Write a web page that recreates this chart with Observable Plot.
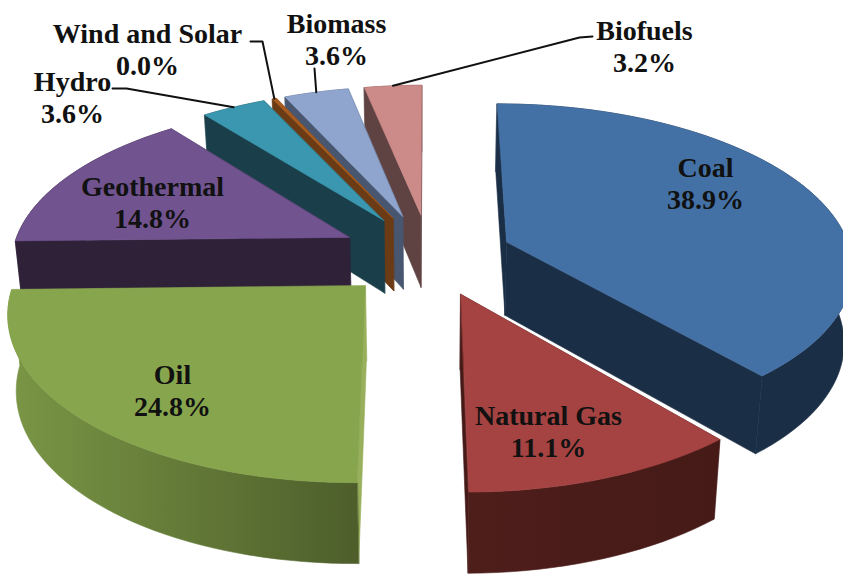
<!DOCTYPE html>
<html>
<head>
<meta charset="utf-8">
<script src="https://cdn.jsdelivr.net/npm/d3@7"></script>
<script src="https://cdn.jsdelivr.net/npm/@observablehq/plot@0.6"></script>
<style>html,body{margin:0;padding:0;background:#fff;overflow:hidden}svg{display:block}</style>
</head>
<body>
<div id="chart"></div>
<script>
// Data
const sources = ["Coal", "Natural Gas", "Oil", "Geothermal", "Hydro", "Wind and Solar", "Biomass", "Biofuels"];
const shares  = [38.9, 11.1, 24.8, 14.8, 3.6, 0.0, 3.6, 3.2];

// Styling
const topColors   = ["#4471a5", "#a44341", "#87a54d", "#70538f", "#3b97af", "#a85c20", "#8fa5ce", "#cc8a88"];
const sideFrom    = ["#1a2e45", "#451a17", "#4d5e2b", "#2e2138", "#1a3f4b", "#6b3b15", "#48566f", "#5f4342"];
const sideTo      = ["#1b3048", "#4e1e1b", "#7a9645", "#2e2138", "#1a3f4b", "#6b3b15", "#48566f", "#5f4342"];
const faceColors  = ["#1a2e45", "#451a17", "#98b05c", "#2e2138", "#1a3f4b", "#6b3b15", "#48566f", "#5f4342"];
const paintOrder  = [7, 6, 5, 4, 3, 0, 2, 1];

// Layout of the tilted, exploded pie
const W = 843, H = 575;
const view = {cx: 429, cy: 254.5, tilt: 0.466, dist: 2460, depth: 74, depthSlope: 0.017, taper: 0.98};
const radii   = [345, 340, 343, 338, 338, 338, 338, 338];
const explode = [83, 87, 90, 90, 90, 90, 90, 90];
const minSpan = 0.8; // degrees: a slice that rounds to zero stays a visible sliver

// Angles from values
const spans = shares.map(v => Math.max(v * 3.6, minSpan));
const k360 = 360 / d3.sum(spans);
let acc = 0;
const slices = sources.map((name, i) => {
  const a0 = acc; acc += spans[i] * k360;
  return {i, name, share: shares[i], a0, a1: acc, mid: (a0 + acc) / 2, r: radii[i]};
});

const rad = d => d * Math.PI / 180;
function project(s, theta, r, lower) {
  const e = explode[s.i];
  const X = e * Math.sin(rad(s.mid)) + r * Math.sin(rad(theta));
  const Y = -e * Math.cos(rad(s.mid)) - r * Math.cos(rad(theta));
  const p = view.dist / (view.dist - Y);
  let x = view.cx + X * p;
  let y = view.cy + view.tilt * Y * p;
  if (lower) {
    y += view.depth + view.depthSlope * Y;
    x = view.cx + (x - view.cx) * view.taper;
  }
  return [x, y];
}

// Polygons, back to front
const rows = [];
let pid = 0;
function poly(points, color) {
  const id = pid++;
  for (const [x, y] of points) rows.push({id, x, y, color});
}
for (const idx of paintOrder) {
  const s = slices[idx];
  for (const t of [s.a0, s.a1]) {
    poly([project(s, t, 0), project(s, t, s.r), project(s, t, s.r, true), project(s, t, 0, true)], faceColors[idx]);
  }
  const n = Math.max(2, Math.ceil((s.a1 - s.a0) / 2));
  const angles = d3.range(n + 1).map(j => s.a0 + (s.a1 - s.a0) * j / n);
  const upper = angles.map(t => project(s, t, s.r));
  const lower = angles.map(t => project(s, t, s.r, true)).reverse();
  poly([...upper, ...lower], `url(#side${idx})`);
  poly([project(s, s.a0, 0), ...upper], topColors[idx]);
}

// Side gradients run across the outer wall of each slice
function sideGradients() {
  const defs = d3.create("svg:defs");
  sources.forEach((_, i) => {
    const g = defs.append("linearGradient").attr("id", `side${i}`).attr("x1", 1).attr("x2", 0).attr("y1", 0).attr("y2", 0);
    g.append("stop").attr("offset", 0).attr("stop-color", sideFrom[i]);
    g.append("stop").attr("offset", 1).attr("stop-color", sideTo[i]);
  });
  return defs.node();
}

// Labels and leader lines
const labelAt = {
  "Coal": [705, 182], "Natural Gas": [548, 430], "Oil": [172, 389], "Geothermal": [152, 201],
  "Hydro": [72, 96], "Wind and Solar": [147, 48], "Biomass": [336, 38], "Biofuels": [644, 45]
};
const leaderBends = {
  "Hydro": [[112, 88], [126, 88]],
  "Wind and Solar": [[250, 41], [262, 41]],
  "Biomass": [[314, 68]],
  "Biofuels": [[592, 36], [579, 37]]
};
const labels = slices.map(s => ({
  text: `${s.name}\n${s.share.toFixed(1)}%`, x: labelAt[s.name][0], y: labelAt[s.name][1]
}));
const leaders = Object.entries(leaderBends).flatMap(([name, bends]) => {
  const s = slices.find(d => d.name === name);
  const end = project(s, s.mid, s.r);
  return [...bends, end].map(([x, y]) => ({name, x, y}));
});

const plot = Plot.plot({
  width: W, height: H, margin: 0,
  x: {axis: null, domain: [0, W], range: [0, W]},
  y: {axis: null, domain: [0, H], range: [0, H]},
  color: {type: "identity"},
  style: {background: "#fff", overflow: "hidden"},
  marks: [
    sideGradients,
    Plot.line(rows, {x: "x", y: "y", z: "id", fill: "color", stroke: "color", strokeWidth: 0.6, curve: "linear-closed"}),
    Plot.line(leaders, {x: "x", y: "y", z: "name", stroke: "#111", strokeWidth: 2}),
    Plot.text(labels, {
      x: "x", y: "y", text: "text", fontFamily: "Liberation Serif", fontWeight: "bold",
      fontSize: 28, lineHeight: 1.14, fill: "#111"
    })
  ]
});
document.getElementById("chart").append(plot);
</script>
</body>
</html>
